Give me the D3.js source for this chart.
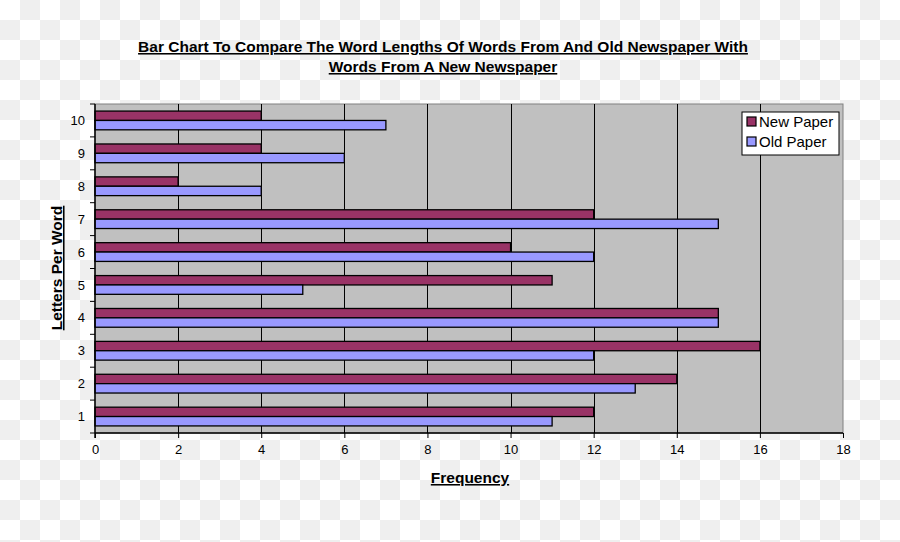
<!DOCTYPE html>
<html><head><meta charset="utf-8">
<script src="https://cdn.jsdelivr.net/npm/d3@7"></script>
<style>body{margin:0;padding:0;overflow:hidden}svg{display:block}text{font-family:"Liberation Sans",Arial,sans-serif}</style>
</head><body>
<svg id="chart" width="900" height="542"></svg>
<script>
const categories = ["1","2","3","4","5","6","7","8","9","10"];
const newPaper = [12,14,16,15,11,10,12,2,4,4];
const oldPaper = [11,13,12,15,5,12,15,4,6,7];
const seriesNames = ["New Paper","Old Paper"];
const xTicks = [0,2,4,6,8,10,12,14,16,18];
const titleLines = ["Bar Chart To Compare The Word Lengths Of Words From And Old Newspaper With","Words From A New Newspaper"];

const svg = d3.select("#chart");
const W=900,H=542;
const defs = svg.append("defs");
const pat = defs.append("pattern").attr("id","chk").attr("width",40).attr("height",40).attr("patternUnits","userSpaceOnUse");
pat.append("rect").attr("width",40).attr("height",40).attr("fill","#ffffff");
pat.append("rect").attr("x",20).attr("y",0).attr("width",20).attr("height",20).attr("fill","#efefef");
pat.append("rect").attr("x",0).attr("y",20).attr("width",20).attr("height",20).attr("fill","#efefef");
svg.append("rect").attr("width",W).attr("height",H).attr("fill","url(#chk)");

const L=95,R=843,T=104,B=433;
const x = d3.scaleLinear().domain([0,18]).range([L,R]);
const y = d3.scaleBand().domain(categories.slice().reverse()).range([T,B]).paddingInner(0.43).paddingOuter(0.215);
const yb = d3.scaleBand().domain(categories.slice().reverse()).range([T,B]);
const sub = d3.scaleBand().domain(seriesNames).range([0,y.bandwidth()]);
const colors = {"New Paper":"#993366","Old Paper":"#9999ff"};

svg.append("rect").attr("x",L).attr("y",T).attr("width",R-L).attr("height",B-T).attr("fill","#c0c0c0").attr("stroke","#808080").attr("stroke-width",1);
svg.append("g").selectAll("line").data(xTicks.slice(1,-1)).join("line")
  .attr("x1",d=>Math.round(x(d))+0.5).attr("x2",d=>Math.round(x(d))+0.5).attr("y1",T).attr("y2",B)
  .attr("stroke","#000").attr("stroke-width",1);

const data = categories.map((c,i)=>({c, vals:[{s:"New Paper",v:newPaper[i]},{s:"Old Paper",v:oldPaper[i]}]}));
const g = svg.append("g");
data.forEach(d=>{
  g.selectAll(null).data(d.vals).join("rect")
   .attr("x",x(0)).attr("y",v=>y(d.c)+sub(v.s))
   .attr("width",v=>x(v.v)-x(0)).attr("height",sub.bandwidth())
   .attr("fill",v=>colors[v.s]).attr("stroke","#000").attr("stroke-width",1.3);
});

const xAxis = d3.axisBottom(x).tickValues(xTicks).tickSize(5).tickPadding(7);
const gx = svg.append("g").attr("transform",`translate(0,${B})`).call(xAxis);
gx.select(".domain").attr("stroke","#000").attr("stroke-width",1.5).attr("d",`M${L},0H${R}`);
gx.selectAll(".tick line").attr("stroke","#000");
gx.selectAll("text").attr("font-size",13).attr("fill","#000").style("font-family",'"Liberation Sans",Arial,sans-serif');

const gy = svg.append("g").attr("transform",`translate(${L},0)`);
gy.append("line").attr("x1",0).attr("x2",0).attr("y1",T).attr("y2",B+5).attr("stroke","#000").attr("stroke-width",1.5);
const bounds = d3.range(categories.length+1).map(i=>T+i*yb.step());
gy.selectAll(".bt").data(bounds).join("line").attr("class","bt")
  .attr("x1",-5).attr("x2",0).attr("y1",d=>d).attr("y2",d=>d).attr("stroke","#000");
gy.selectAll(".lbl").data(categories).join("text").attr("class","lbl")
  .attr("x",-10).attr("y",d=>yb(d)+yb.bandwidth()/2).attr("dy","0.35em")
  .attr("text-anchor","end").attr("font-size",13).attr("fill","#000").text(d=>d);

svg.selectAll(".title").data(titleLines).join("text").attr("class","title")
  .attr("x",443).attr("y",(d,i)=>52+i*20).attr("text-anchor","middle")
  .attr("font-size",15.5).attr("font-weight","bold").attr("text-decoration","underline").attr("fill","#000").text(d=>d);

svg.append("text").attr("x",470).attr("y",483).attr("text-anchor","middle")
  .attr("font-size",15.5).attr("font-weight","bold").attr("text-decoration","underline").text("Frequency");
svg.append("text").attr("transform","translate(62,268) rotate(-90)").attr("text-anchor","middle")
  .attr("font-size",15.5).attr("font-weight","bold").attr("text-decoration","underline").text("Letters Per Word");

const lg = svg.append("g").attr("transform","translate(742,112)");
lg.append("rect").attr("width",97).attr("height",43).attr("fill","#fff").attr("stroke","#000");
seriesNames.forEach((s,i)=>{
  lg.append("rect").attr("x",5).attr("y",5+i*20).attr("width",9).attr("height",9).attr("fill",colors[s]).attr("stroke","#000").attr("stroke-width",1.2);
  lg.append("text").attr("x",17).attr("y",14.5+i*20).attr("font-size",15).attr("fill","#000").text(s);
});
</script>
</body></html>
